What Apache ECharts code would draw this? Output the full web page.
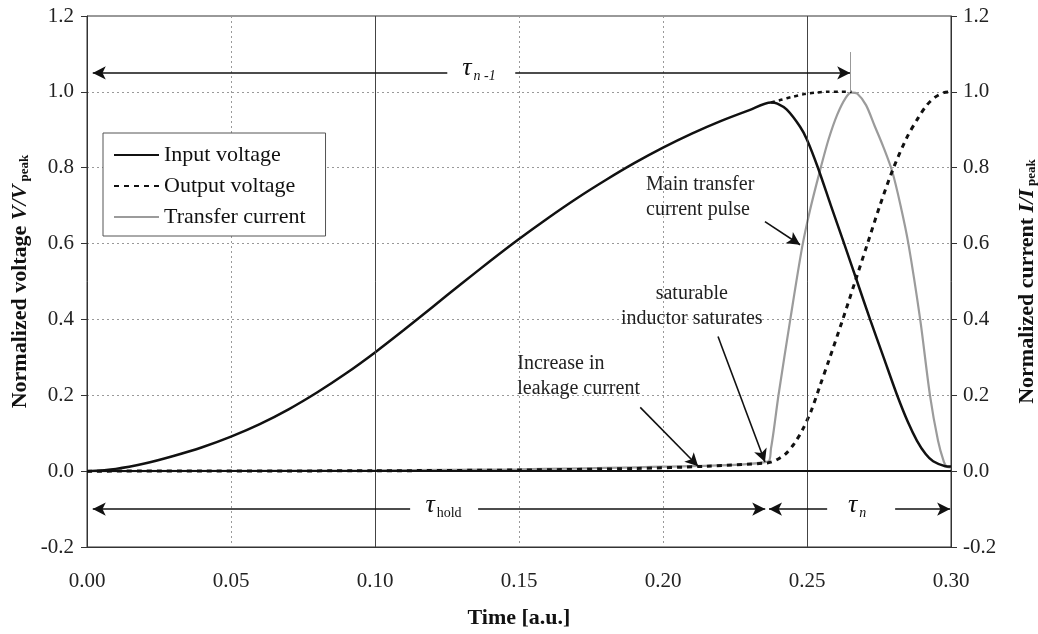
<!DOCTYPE html>
<html>
<head>
<meta charset="utf-8">
<script src="https://cdn.jsdelivr.net/npm/echarts@6/dist/echarts.min.js"></script>
<style>
html,body{margin:0;padding:0;background:#fff;}
#chart{width:1038px;height:634px;}
</style>
</head>
<body>
<div id="chart"></div>
<script>
// ---------------- data ----------------
const seriesNames = ['Input voltage', 'Output voltage', 'Transfer current'];

const inputVoltage = [
  [0, 0], [0.01, 0.006], [0.02, 0.020], [0.03, 0.040], [0.04, 0.063], [0.05, 0.091],
  [0.06, 0.124], [0.07, 0.163], [0.08, 0.208], [0.09, 0.258], [0.10, 0.313], [0.11, 0.372],
  [0.12, 0.433], [0.13, 0.494], [0.14, 0.554], [0.15, 0.612], [0.16, 0.667], [0.17, 0.719],
  [0.18, 0.767], [0.19, 0.812], [0.20, 0.853], [0.21, 0.890], [0.22, 0.923], [0.23, 0.952],
  [0.2375, 0.972], [0.2397, 0.969], [0.243, 0.953], [0.2476, 0.908], [0.25, 0.874],
  [0.2538, 0.80], [0.2583, 0.70], [0.2629, 0.60], [0.2674, 0.50], [0.2719, 0.40],
  [0.2766, 0.30], [0.2813, 0.20], [0.2850, 0.13], [0.2882, 0.08], [0.2912, 0.045],
  [0.2938, 0.026], [0.298, 0.013], [0.30, 0.012]
];

const outputVoltageMain = [
  [0, 0], [0.10, 0.001], [0.15, 0.003], [0.19, 0.007], [0.215, 0.013], [0.2365, 0.022],
  [0.2395, 0.030], [0.2425, 0.045], [0.2455, 0.072], [0.2485, 0.110], [0.2515, 0.160],
  [0.2545, 0.225], [0.2575, 0.290], [0.2622, 0.395], [0.2665, 0.495], [0.2708, 0.595],
  [0.2753, 0.700], [0.2798, 0.795], [0.2847, 0.880], [0.2885, 0.930], [0.2916, 0.965],
  [0.2945, 0.986], [0.2975, 0.998], [0.30, 1.0]
];

const outputVoltagePrev = [
  [0.2375, 0.972], [0.241, 0.979], [0.245, 0.987], [0.249, 0.994], [0.253, 0.998],
  [0.257, 1.0], [0.2655, 1.0]
];

const transferCurrent = [
  [0, 0], [0.10, 0.002], [0.15, 0.005], [0.20, 0.012], [0.2365, 0.025], [0.2375, 0.06],
  [0.2385, 0.11], [0.2401, 0.20], [0.2442, 0.40], [0.2483, 0.59], [0.2511, 0.69],
  [0.2546, 0.795], [0.2575, 0.875], [0.2605, 0.94], [0.2635, 0.985], [0.2655, 0.998],
  [0.2675, 0.995], [0.2705, 0.965], [0.2735, 0.91], [0.2765, 0.855], [0.2796, 0.79],
  [0.2825, 0.70], [0.2852, 0.60], [0.2893, 0.40], [0.2927, 0.20], [0.2955, 0.08],
  [0.2975, 0.025], [0.2985, 0.012], [0.30, 0.01]
];

const xMin = 0, xMax = 0.30, xInterval = 0.05;
const yMin = -0.2, yMax = 1.2, yInterval = 0.2;

// ---------------- annotation geometry (data coordinates) ----------------
const tauArrowY = 1.05, holdArrowY = -0.1;
const arrowSegments = [
  // [from, to, arrowAtStart, arrowAtEnd]
  [[0.002, tauArrowY], [0.1251, tauArrowY], true, false],
  [[0.1487, tauArrowY], [0.2650, tauArrowY], false, true],
  [[0.002, holdArrowY], [0.1122, holdArrowY], true, false],
  [[0.1358, holdArrowY], [0.2355, holdArrowY], false, true],
  [[0.2368, holdArrowY], [0.2570, holdArrowY], true, false],
  [[0.2806, holdArrowY], [0.2997, holdArrowY], false, true],
  [[0.2354, 0.658], [0.2476, 0.597], false, true],
  [[0.2191, 0.355], [0.2354, 0.024], false, true],
  [[0.1921, 0.168], [0.2122, 0.013], false, true]
];
const peakMarker = [[0.2650, 1.0], [0.2650, 1.105]];
const solidGridX = [0.10, 0.25];

const textNotes = [
  { text: 'Main transfer\ncurrent pulse', at: [0.1941, 0.722], align: 'left' },
  { text: 'saturable\ninductor saturates', at: [0.2100, 0.4355], align: 'center' },
  { text: 'Increase in\nleakage current', at: [0.1494, 0.250], align: 'left' }
];
const tauLabels = [
  { sub: 'n -1', italicSub: true, at: [0.1303, 1.055] },
  { sub: 'hold', italicSub: false, at: [0.1175, -0.097] },
  { sub: 'n', italicSub: true, at: [0.2642, -0.097] }
];

// ---------------- chart ----------------
const FONT = '"Liberation Serif", "Times New Roman", serif';
const chart = echarts.init(document.getElementById('chart'), null, { renderer: 'canvas' });

const markLineData = arrowSegments.map(s => [
  { coord: s[0], symbol: s[2] ? 'arrow' : 'none' },
  { coord: s[1], symbol: s[3] ? 'arrow' : 'none' }
]);

const gridOverlayData = solidGridX.map(x => [
  { coord: [x, yMin], symbol: 'none' },
  { coord: [x, yMax], symbol: 'none' }
]).concat([[
  { coord: [xMin, 0], symbol: 'none', lineStyle: { color: '#111', width: 2, type: 'solid' } },
  { coord: [xMax, 0], symbol: 'none', lineStyle: { color: '#111', width: 2, type: 'solid' } }
]]);

const axisLabelStyle = { fontFamily: FONT, fontSize: 21, color: '#222' };

const option = {
  animation: false,
  backgroundColor: '#fff',
  grid: { left: 87, right: 87, top: 16, bottom: 86, show: true, borderColor: '#333', borderWidth: 1, backgroundColor: 'transparent' },
  legend: {
    data: seriesNames,
    orient: 'vertical',
    left: 103, top: 133,
    padding: [11, 20, 8, 10],
    itemGap: 9,
    itemWidth: 45, itemHeight: 14,
    backgroundColor: '#fff',
    borderColor: '#555', borderWidth: 1,
    itemStyle: { opacity: 0 },
    textStyle: { fontFamily: FONT, fontSize: 22, color: '#111' },
    selectedMode: false
  },
  xAxis: {
    type: 'value', min: xMin, max: xMax, interval: xInterval,
    axisLine: { show: true, onZero: false, lineStyle: { color: '#333', width: 1 } },
    axisTick: { show: false },
    axisLabel: Object.assign({ margin: 24, formatter: v => v.toFixed(2) }, axisLabelStyle),
    splitLine: { show: true, lineStyle: { color: '#999', type: [2, 3], width: 1 } },
    name: 'Time [a.u.]', nameLocation: 'middle', nameGap: 60,
    nameTextStyle: { fontFamily: FONT, fontSize: 22, fontWeight: 'bold', color: '#111' }
  },
  yAxis: [
    {
      type: 'value', min: yMin, max: yMax, interval: yInterval, position: 'left',
      axisLine: { show: true, onZero: false, lineStyle: { color: '#333', width: 1 } },
      axisTick: { show: true, length: 6, lineStyle: { color: '#333' } },
      axisLabel: Object.assign({ margin: 13, formatter: v => v.toFixed(1) }, axisLabelStyle),
      splitLine: { show: true, lineStyle: { color: '#999', type: [2, 3], width: 1 } }
    },
    {
      type: 'value', min: yMin, max: yMax, interval: yInterval, position: 'right',
      axisLine: { show: true, onZero: false, lineStyle: { color: '#333', width: 1 } },
      axisTick: { show: true, length: 6, lineStyle: { color: '#333' } },
      axisLabel: Object.assign({ margin: 12, formatter: v => v.toFixed(1) }, axisLabelStyle),
      splitLine: { show: false }
    }
  ],
  series: [
    {
      name: 'grid-overlay', type: 'line', data: [], z: 1, silent: true,
      markLine: {
        silent: true, animation: false, label: { show: false }, emphasis: { disabled: true },
        symbol: 'none',
        lineStyle: { color: '#444', width: 1, type: 'solid' },
        data: gridOverlayData
      }
    },
    {
      name: seriesNames[2], type: 'line', yAxisIndex: 1, data: transferCurrent, z: 3,
      symbol: 'none', showSymbol: false, smooth: 0.3,
      lineStyle: { color: '#9b9b9b', width: 2.2 }, itemStyle: { color: '#9b9b9b' }
    },
    {
      name: seriesNames[0], type: 'line', data: inputVoltage, z: 4,
      symbol: 'none', showSymbol: false, smooth: 0.3,
      lineStyle: { color: '#111', width: 2.5 }, itemStyle: { color: '#111' }
    },
    {
      name: seriesNames[1], type: 'line', data: outputVoltageMain, z: 4,
      symbol: 'none', showSymbol: false, smooth: 0.3,
      lineStyle: { color: '#111', width: 3, type: [5, 5] }, itemStyle: { color: '#111' }
    },
    {
      name: seriesNames[1], type: 'line', data: outputVoltagePrev, z: 4,
      symbol: 'none', showSymbol: false, smooth: 0.3,
      lineStyle: { color: '#111', width: 2.5, type: [4, 4] }, itemStyle: { color: '#111' }
    },
    {
      name: 'annotations', type: 'line', data: [], z: 5, silent: true,
      markLine: {
        silent: true, animation: false, label: { show: false }, emphasis: { disabled: true },
        symbolSize: [10, 13],
        lineStyle: { color: '#111', width: 1.6, type: 'solid' },
        data: markLineData.concat([[
          { coord: peakMarker[0], symbol: 'none', lineStyle: { color: '#999', width: 1 } },
          { coord: peakMarker[1], symbol: 'none', lineStyle: { color: '#999', width: 1 } }
        ]])
      }
    }
  ]
};

chart.setOption(option);

// ---------------- text annotations, placed through the axes ----------------
const P = (pt, yi) => chart.convertToPixel({ xAxisIndex: 0, yAxisIndex: yi || 0 }, pt);
const ctx = document.createElement('canvas').getContext('2d');
const measure = (txt, font) => { ctx.font = font; return ctx.measureText(txt).width; };

const graphics = [];

textNotes.forEach(n => {
  const p = P(n.at);
  graphics.push({
    type: 'text', x: p[0], y: p[1], silent: true, z: 10,
    style: { text: n.text, fontFamily: FONT, fontSize: 20, fill: '#222', align: n.align, verticalAlign: 'middle', lineHeight: 25 }
  });
});

const tauSize = 26, tauSub = 14;
tauLabels.forEach(t => {
  const p = P(t.at);
  const tw = measure('τ', `italic ${tauSize}px ${FONT}`);
  graphics.push({
    type: 'text', x: p[0], y: p[1] - 3, silent: true, z: 10,
    style: { text: 'τ', fontFamily: FONT, fontStyle: 'italic', fontSize: tauSize, fill: '#111', align: 'left', verticalAlign: 'middle' }
  });
  graphics.push({
    type: 'text', x: p[0] + tw + 2, y: p[1] + 5, silent: true, z: 10,
    style: { text: t.sub, fontFamily: FONT, fontStyle: t.italicSub ? 'italic' : 'normal', fontSize: tauSub, fill: '#111', align: 'left', verticalAlign: 'middle' }
  });
});

// rotated axis names
function axisName(parts, cx, cy) {
  const widths = parts.map(pt => measure(pt.text, `${pt.italic ? 'italic ' : ''}bold ${pt.size}px ${FONT}`));
  const total = widths.reduce((a, b) => a + b, 0);
  let x = -total / 2;
  const children = parts.map((pt, i) => {
    const el = {
      type: 'text', x: x, y: pt.dy || 0,
      style: { text: pt.text, fontFamily: FONT, fontWeight: 'bold', fontStyle: pt.italic ? 'italic' : 'normal', fontSize: pt.size, fill: '#111', align: 'left', verticalAlign: 'middle' }
    };
    x += widths[i];
    return el;
  });
  return { type: 'group', x: cx, y: cy, rotation: Math.PI / 2, silent: true, children: children };
}
const plotTop = P([0, yMax])[1], plotBottom = P([0, yMin])[1];
const plotLeft = P([xMin, 0])[0], plotRight = P([xMax, 0])[0];
const midY = (plotTop + plotBottom) / 2;
graphics.push(axisName([
  { text: 'Normalized voltage ', size: 22 },
  { text: 'V/V', size: 22, italic: true },
  { text: ' peak', size: 13, dy: 5 }
], plotLeft - 67, midY));
graphics.push(axisName([
  { text: 'Normalized current ', size: 22 },
  { text: 'I/I', size: 22, italic: true },
  { text: ' peak', size: 13, dy: 5 }
], plotRight + 76, midY));

chart.setOption({ graphic: graphics });
</script>
</body>
</html>
